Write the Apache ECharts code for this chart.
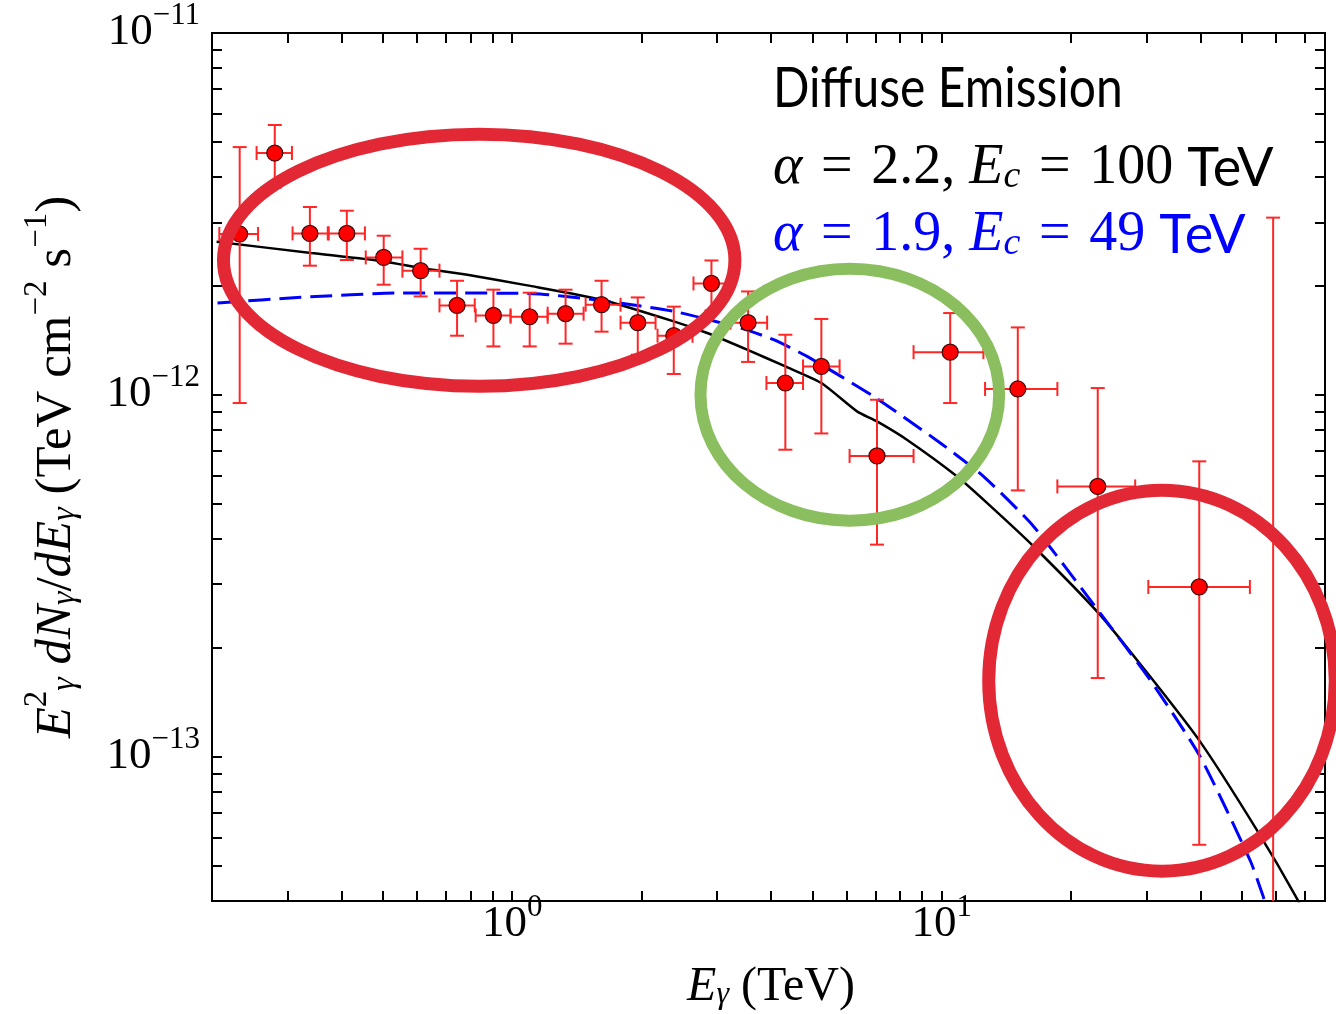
<!DOCTYPE html>
<html><head><meta charset="utf-8">
<script src="https://cdn.jsdelivr.net/npm/echarts@6/dist/echarts.min.js"></script>
<style>html,body{margin:0;padding:0;background:#fff}#c{width:1336px;height:1014px}</style>
</head><body><div id="c"></div>
<script>
// ---- data ----
const energy   = [0.232, 0.280, 0.338, 0.412, 0.502, 0.612, 0.744, 0.904, 1.098, 1.331, 1.614, 1.960, 2.377, 2.909, 3.540, 4.323, 5.243, 7.065, 10.46, 15.03, 23.07, 39.75];
const energyLo = [0.208, 0.254, 0.308, 0.374, 0.456, 0.555, 0.677, 0.822, 0.991, 1.209, 1.482, 1.787, 2.179, 2.642, 3.221, 3.906, 4.753, 6.100, 8.595, 12.61, 18.58, 30.25];
const energyHi = [0.256, 0.307, 0.372, 0.454, 0.555, 0.677, 0.818, 0.991, 1.209, 1.466, 1.787, 2.156, 2.628, 3.186, 3.921, 4.753, 5.782, 8.595, 12.50, 18.58, 28.2, 52.15];
const flux   = [2.785e-12, 4.66e-12, 2.795e-12, 2.795e-12, 2.399e-12, 2.205e-12, 1.768e-12, 1.659e-12, 1.645e-12, 1.677e-12, 1.776e-12, 1.584e-12, 1.458e-12, 2.033e-12, 1.584e-12, 1.079e-12, 1.199e-12, 6.785e-13, 1.313e-12, 1.039e-12, 5.59e-13, 2.949e-13];
const fluxHi = [4.84e-12, 5.57e-12, 3.306e-12, 3.229e-12, 2.754e-12, 2.535e-12, 2.068e-12, 1.954e-12, 1.917e-12, 1.954e-12, 2.068e-12, 1.860e-12, 1.754e-12, 2.353e-12, 1.932e-12, 1.467e-12, 1.622e-12, 9.70e-13, 1.684e-12, 1.537e-12, 1.045e-12, 6.556e-13];
const fluxLo = [9.50e-13, 3.74e-12, 2.276e-12, 2.36e-12, 2.017e-12, 1.872e-12, 1.458e-12, 1.362e-12, 1.362e-12, 1.386e-12, 1.496e-12, 1.292e-12, 1.143e-12, 1.712e-12, 1.234e-12, 7.06e-13, 7.83e-13, 3.86e-13, 9.50e-13, 5.45e-13, 1.652e-13, 5.72e-14];

// last bin: only the error bar is visible (point below the axis)
const limitEnergy = [59.07];
const limitFluxHi = [3.09e-12];
const limitFluxLo = [1e-14];

// model curves
const blackE = [0.205, 0.340, 0.503, 0.612, 0.786, 1.084, 1.614, 2.377, 2.843, 3.521, 4.323, 5.243, 6.347, 7.065, 8.293, 10.84, 12.72, 16.34, 23.35, 30.52, 39.9, 54.06, 66.97, 72];
const blackF = [2.65e-12, 2.468e-12, 2.339e-12, 2.243e-12, 2.149e-12, 2.008e-12, 1.833e-12, 1.597e-12, 1.483e-12, 1.334e-12, 1.199e-12, 1.079e-12, 9.01e-13, 8.45e-13, 7.52e-13, 5.96e-13, 5.04e-13, 3.82e-13, 2.47e-13, 1.67e-13, 1.104e-13, 6.30e-14, 4.08e-14, 3.4e-14];
const blueE = [0.206, 0.322, 0.550, 1.123, 1.664, 2.377, 3.398, 4.061, 4.858, 6.938, 9.92, 12.50, 16.34, 23.35, 30.52, 39.9, 52.15, 55.99, 58.5];
const blueF = [1.795e-12, 1.861e-12, 1.914e-12, 1.905e-12, 1.814e-12, 1.702e-12, 1.531e-12, 1.421e-12, 1.278e-12, 9.91e-13, 7.37e-13, 5.96e-13, 4.34e-13, 2.50e-13, 1.635e-13, 1.004e-13, 5.20e-14, 4.12e-14, 3.5e-14];

// axis ticks
const xMajorTicks = [1, 10];
const xMinorTicks = [0.3, 0.4, 0.5, 0.6, 0.7, 0.8, 0.9, 2, 3, 4, 5, 6, 7, 8, 9, 20, 30, 40, 50, 60, 70];
const yMajorTicks = [1e-13, 1e-12, 1e-11];
const yMinorTicks = [5e-14, 6e-14, 7e-14, 8e-14, 9e-14, 2e-13, 3e-13, 4e-13, 5e-13, 6e-13, 7e-13, 8e-13, 9e-13, 2e-12, 3e-12, 4e-12, 5e-12, 6e-12, 7e-12, 8e-12, 9e-12];

// highlight ellipses (bounding boxes in data units)
const ellipseEmin = [0.2127, 2.743, 12.86];
const ellipseEmax = [3.299, 13.60, 82.4];
const ellipseFmin = [1.0575e-12, 4.496e-13, 4.835e-14];
const ellipseFmax = [5.253e-12, 2.233e-12, 5.458e-13];
const ellipseColor = ['#e22835', '#8bbe5e', '#e22835'];

// ---- chart ----
const SERIF = "'Liberation Serif', 'DejaVu Serif', serif";
const SANS = "Lato, 'Open Sans', 'DejaVu Sans', sans-serif";
const chart = echarts.init(document.getElementById('c'));

const errData = energy.map((e, i) => [e, flux[i], energyLo[i], energyHi[i], fluxLo[i], fluxHi[i]]);
const limitData = limitEnergy.map((e, i) => [e, limitFluxLo[i], limitFluxHi[i]]);
const ellData = ellipseEmin.map((e, i) => [e, ellipseEmax[i], ellipseFmin[i], ellipseFmax[i], i]);
const allX = xMajorTicks.concat(xMinorTicks);
const allY = yMajorTicks.concat(yMinorTicks);

function powLabel(v) {
  const e = Math.round(Math.log10(v));
  return '{b|10}{s|' + (e < 0 ? '\u2212' + (-e) : String(e)) + '}';
}
const labelRich = {
  b: { fontFamily: SERIF, fontSize: 45, color: '#000', verticalAlign: 'bottom', lineHeight: 44 },
  s: { fontFamily: SERIF, fontSize: 31, color: '#000', verticalAlign: 'bottom', lineHeight: 30, padding: [0, 0, 24, 0] }
};
const tickStyle = { inside: true, length: 10, lineStyle: { color: '#000', width: 2 } };

function xAx(pos, showLabel) {
  return {
    type: 'log', logBase: 10, min: 0.2, max: 78, position: pos,
    axisLine: { show: false },
    axisTick: Object.assign({ customValues: allX }, tickStyle),
    axisLabel: { show: showLabel, customValues: xMajorTicks, formatter: powLabel, rich: labelRich, margin: 2 },
    splitLine: { show: false }, minorTick: { show: false }
  };
}
function yAx(pos, showLabel) {
  return {
    type: 'log', logBase: 10, min: 4e-14, max: 1e-11, position: pos,
    axisLine: { show: false },
    axisTick: Object.assign({ customValues: allY }, tickStyle),
    axisLabel: { show: showLabel, customValues: yMajorTicks, formatter: powLabel, rich: labelRich, margin: 12 },
    splitLine: { show: false }, minorTick: { show: false }
  };
}

function renderErr(params, api) {
  const e = api.value(0), f = api.value(1), elo = api.value(2), ehi = api.value(3), flo = api.value(4), fhi = api.value(5);
  const t = api.coord([e, fhi]), b = api.coord([e, flo]);
  const l = api.coord([elo, f]), r = api.coord([ehi, f]);
  const c = 7;
  const st = { stroke: '#ff2626', lineWidth: 2, fill: null };
  const L = (x1, y1, x2, y2) => ({ type: 'line', shape: { x1, y1, x2, y2 }, style: st });
  return { type: 'group', children: [
    L(t[0], t[1], b[0], b[1]), L(t[0] - c, t[1], t[0] + c, t[1]), L(b[0] - c, b[1], b[0] + c, b[1]),
    L(l[0], l[1], r[0], r[1]), L(l[0], l[1] - c, l[0], l[1] + c), L(r[0], r[1] - c, r[0], r[1] + c)
  ] };
}
function renderLimit(params, api) {
  const e = api.value(0), flo = api.value(1), fhi = api.value(2);
  const t = api.coord([e, fhi]), b = api.coord([e, flo]);
  const st = { stroke: '#ff2626', lineWidth: 2, fill: null };
  return { type: 'group', children: [
    { type: 'line', shape: { x1: t[0], y1: t[1], x2: b[0], y2: b[1] }, style: st },
    { type: 'line', shape: { x1: t[0] - 7, y1: t[1], x2: t[0] + 7, y2: t[1] }, style: st }
  ] };
}
function renderEllipse(params, api) {
  const p1 = api.coord([api.value(0), api.value(3)]);
  const p2 = api.coord([api.value(1), api.value(2)]);
  const idx = api.value(4);
  return {
    type: 'ellipse',
    shape: { cx: (p1[0] + p2[0]) / 2, cy: (p1[1] + p2[1]) / 2, rx: Math.abs(p2[0] - p1[0]) / 2, ry: Math.abs(p2[1] - p1[1]) / 2 },
    style: { stroke: ellipseColor[idx], lineWidth: idx === 1 ? 12 : 13, fill: null }
  };
}

function mathRich(color) {
  return {
    i: { fontFamily: SERIF, fontStyle: 'italic', fontSize: 56, fill: color, verticalAlign: 'bottom', lineHeight: 60 },
    c: { fontFamily: SERIF, fontStyle: 'italic', fontSize: 38, fill: color, verticalAlign: 'bottom', lineHeight: 48 },
    n: { fontFamily: SERIF, fontSize: 56, fill: color, verticalAlign: 'bottom', lineHeight: 60 },
    s: { fontFamily: SANS, fontSize: 54, fill: color, verticalAlign: 'bottom', lineHeight: 60 }
  };
}
const SP = '\u2004';

const option = {
  animation: false,
  backgroundColor: '#fff',
  grid: { left: 212, top: 33, width: 1113, height: 868, show: true, borderColor: '#000', borderWidth: 2, backgroundColor: 'transparent' },
  xAxis: [xAx('bottom', true), xAx('top', false)],
  yAxis: [yAx('left', true), yAx('right', false)],
  series: [
    { type: 'line', data: blackE.map((e, i) => [e, blackF[i]]), symbol: 'none', smooth: 0.2, clip: true,
      lineStyle: { color: '#000', width: 2.5 }, z: 2 },
    { type: 'line', data: blueE.map((e, i) => [e, blueF[i]]), symbol: 'none', smooth: 0.2, clip: true,
      lineStyle: { color: '#0000ff', width: 3, type: [22, 9] }, z: 2 },
    { type: 'custom', data: errData, renderItem: renderErr, clip: true, z: 3 },
    { type: 'custom', data: limitData, renderItem: renderLimit, clip: true, z: 3 },
    { type: 'scatter', data: energy.map((e, i) => [e, flux[i]]), symbol: 'circle', symbolSize: 16,
      itemStyle: { color: '#ff0000', borderColor: '#3a0a0a', borderWidth: 1.2, opacity: 1 }, z: 4 },
    { type: 'custom', data: ellData, renderItem: renderEllipse, clip: false, z: 5 }
  ],
  graphic: [
    { type: 'text', x: 773, y: 89, z: 10, scaleY: 1.15,
      style: { text: 'Diffuse Emission', font: '48px ' + SANS, fill: '#000', textAlign: 'left', textVerticalAlign: 'middle' } },
    { type: 'text', x: 773, y: 166, z: 10,
      style: { text: '{i|\u03b1}{n|' + SP + '=' + SP + '2.2, }{i|E}{c|c}{n|' + SP + '=' + SP + '100 }{s|TeV}',
        textAlign: 'left', textVerticalAlign: 'middle', rich: mathRich('#000') } },
    { type: 'text', x: 773, y: 233, z: 10,
      style: { text: '{i|\u03b1}{n|' + SP + '=' + SP + '1.9, }{i|E}{c|c}{n|' + SP + '=' + SP + '49 }{s|TeV}',
        textAlign: 'left', textVerticalAlign: 'middle', rich: mathRich('#0000ff') } },
    { type: 'text', x: 771, y: 985, z: 10,
      style: { text: '{i|E}{u|\u03b3}{n| (TeV)}', textAlign: 'center', textVerticalAlign: 'middle',
        rich: {
          i: { fontFamily: SERIF, fontStyle: 'italic', fontSize: 48, fill: '#000', verticalAlign: 'bottom', lineHeight: 52 },
          u: { fontFamily: SERIF, fontStyle: 'italic', fontSize: 32, fill: '#000', verticalAlign: 'bottom', lineHeight: 40 },
          n: { fontFamily: SERIF, fontSize: 48, fill: '#000', verticalAlign: 'bottom', lineHeight: 52 }
        } } },
    { type: 'text', x: 55, y: 467, rotation: Math.PI / 2, z: 10,
      style: { text: '{i|E}{p|2}{u|\u03b3}{n| }{i|dN}{u|\u03b3}{n|/}{i|dE}{u|\u03b3}{n| (TeV cm}{p|\u22122}{n| s}{p|\u22121}{n|)}',
        textAlign: 'center', textVerticalAlign: 'middle',
        rich: {
          i: { fontFamily: SERIF, fontStyle: 'italic', fontSize: 51, fill: '#000', verticalAlign: 'bottom', lineHeight: 54 },
          u: { fontFamily: SERIF, fontStyle: 'italic', fontSize: 34, fill: '#000', verticalAlign: 'bottom', lineHeight: 42 },
          p: { fontFamily: SERIF, fontSize: 33, fill: '#000', verticalAlign: 'bottom', lineHeight: 32, padding: [0, 0, 28, 0] },
          n: { fontFamily: SERIF, fontSize: 51, fill: '#000', verticalAlign: 'bottom', lineHeight: 54 }
        } } }
  ]
};
chart.setOption(option);
</script>
</body></html>
